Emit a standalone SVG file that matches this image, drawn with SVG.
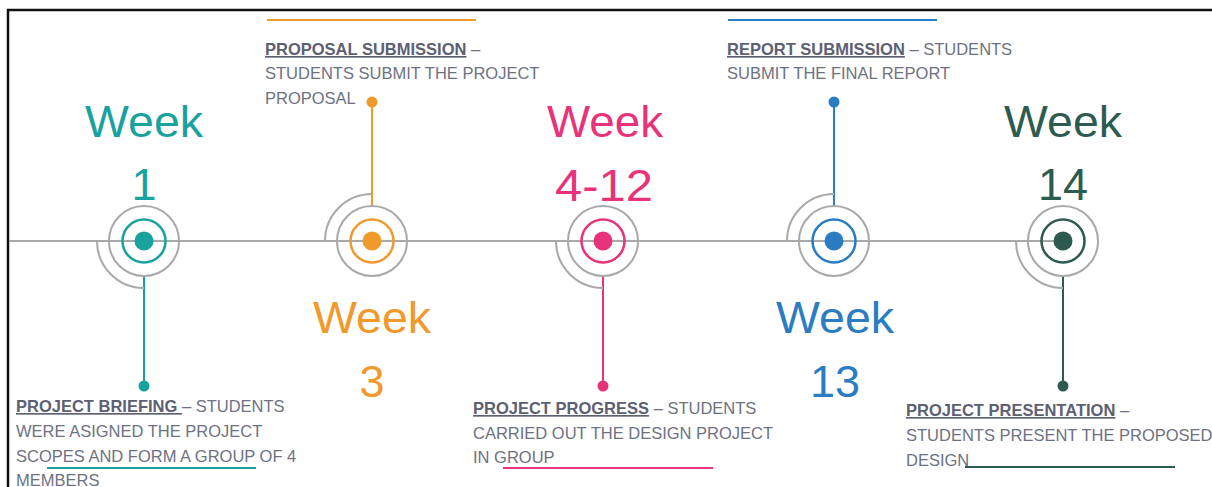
<svg xmlns="http://www.w3.org/2000/svg" width="1212" height="487" viewBox="0 0 1212 487">
<style>
.wk{font-family:"Liberation Sans",Arial,sans-serif;font-size:44px;text-anchor:middle}
.num{font-family:"Liberation Sans",Arial,sans-serif;font-size:45px;text-anchor:middle}
.desc{font-family:"Liberation Sans",Arial,sans-serif;font-size:16.5px;fill:#6e7182}
.hd{font-weight:bold;fill:#5d6073;text-decoration:underline}
.gray{fill:none;stroke:#a9a9a9;stroke-width:2}
.ring{fill:none;stroke-width:2.5}
</style>
<rect width="1212" height="487" fill="#ffffff"/>
<path d="M8,487 V10 H1212" fill="none" stroke="#111" stroke-width="2.5"/>
<line x1="9" y1="241" x2="1063" y2="241" stroke="#a9a9a9" stroke-width="2"/>

<g id="connectors">
  <line x1="144" y1="276" x2="144" y2="386" stroke="#17a29e" stroke-width="2"/>
  <circle cx="144" cy="386" r="5.5" fill="#17a29e"/>
  <line x1="372" y1="102" x2="372" y2="206" stroke="#f09a2c" stroke-width="2"/>
  <circle cx="372" cy="102" r="5.5" fill="#f09a2c"/>
  <line x1="603" y1="276" x2="603" y2="386" stroke="#e8337a" stroke-width="2"/>
  <circle cx="603" cy="386" r="5.5" fill="#e8337a"/>
  <line x1="834" y1="102" x2="834" y2="206" stroke="#2a7dc2" stroke-width="2"/>
  <circle cx="834" cy="102" r="5.5" fill="#2a7dc2"/>
  <line x1="1063" y1="276" x2="1063" y2="386" stroke="#2d5b50" stroke-width="2"/>
  <circle cx="1063" cy="386" r="5.5" fill="#2d5b50"/>
</g>

<g id="node-week1">
  <path class="gray" d="M97,241 A47,47 0 0 0 144,288"/>
  <circle class="gray" cx="144" cy="241" r="35"/>
  <circle class="ring" cx="144" cy="241" r="21.5" stroke="#17a29e"/>
  <circle cx="144" cy="241" r="9.5" fill="#17a29e"/>
  <text class="wk" x="144" y="137" fill="#17a29e" textLength="118" lengthAdjust="spacingAndGlyphs">Week</text>
  <text class="num" x="144" y="200" fill="#17a29e">1</text>
  <line x1="47" y1="468" x2="256" y2="468" stroke="#17a29e" stroke-width="2"/>
  <text class="desc" x="16" y="412"><tspan class="hd">PROJECT BRIEFING </tspan>– STUDENTS</text>
  <text class="desc" x="16" y="437">WERE ASIGNED THE PROJECT</text>
  <text class="desc" x="16" y="462">SCOPES AND FORM A GROUP OF 4</text>
  <text class="desc" x="16" y="486">MEMBERS</text>
</g>

<g id="node-week3">
  <path class="gray" d="M325,241 A47,47 0 0 1 372,194"/>
  <circle class="gray" cx="372" cy="241" r="35"/>
  <circle class="ring" cx="372" cy="241" r="21.5" stroke="#f09a2c"/>
  <circle cx="372" cy="241" r="9.5" fill="#f09a2c"/>
  <text class="wk" x="372" y="333" fill="#f09a2c" textLength="118" lengthAdjust="spacingAndGlyphs">Week</text>
  <text class="num" x="372" y="397" fill="#f09a2c">3</text>
  <line x1="267" y1="20" x2="476" y2="20" stroke="#f09a2c" stroke-width="2"/>
  <text class="desc" x="265" y="55"><tspan class="hd">PROPOSAL SUBMISSION</tspan> –</text>
  <text class="desc" x="265" y="79">STUDENTS SUBMIT THE PROJECT</text>
  <text class="desc" x="265" y="104">PROPOSAL</text>
</g>

<g id="node-week4-12">
  <path class="gray" d="M556,241 A47,47 0 0 0 603,288"/>
  <circle class="gray" cx="603" cy="241" r="35"/>
  <circle class="ring" cx="603" cy="241" r="21.5" stroke="#e8337a"/>
  <circle cx="603" cy="241" r="9.5" fill="#e8337a"/>
  <text class="wk" x="605" y="137" fill="#e8337a" textLength="116" lengthAdjust="spacingAndGlyphs">Week</text>
  <text class="num" x="604" y="201" fill="#e8337a" textLength="98" lengthAdjust="spacingAndGlyphs">4-12</text>
  <line x1="503" y1="468" x2="713" y2="468" stroke="#e8337a" stroke-width="2"/>
  <text class="desc" x="473" y="414"><tspan class="hd">PROJECT PROGRESS</tspan> – STUDENTS</text>
  <text class="desc" x="473" y="439">CARRIED OUT THE DESIGN PROJECT</text>
  <text class="desc" x="473" y="463">IN GROUP</text>
</g>

<g id="node-week13">
  <path class="gray" d="M787,241 A47,47 0 0 1 834,194"/>
  <circle class="gray" cx="834" cy="241" r="35"/>
  <circle class="ring" cx="834" cy="241" r="21.5" stroke="#2a7dc2"/>
  <circle cx="834" cy="241" r="9.5" fill="#2a7dc2"/>
  <text class="wk" x="835" y="333" fill="#2a7dc2" textLength="118" lengthAdjust="spacingAndGlyphs">Week</text>
  <text class="num" x="835" y="397" fill="#2a7dc2">13</text>
  <line x1="728" y1="20" x2="937" y2="20" stroke="#2a7dc2" stroke-width="2"/>
  <text class="desc" x="727" y="55"><tspan class="hd">REPORT SUBMISSION</tspan> – STUDENTS</text>
  <text class="desc" x="727" y="79">SUBMIT THE FINAL REPORT</text>
</g>

<g id="node-week14">
  <path class="gray" d="M1016,241 A47,47 0 0 0 1063,288"/>
  <circle class="gray" cx="1063" cy="241" r="35"/>
  <circle class="ring" cx="1063" cy="241" r="21.5" stroke="#2d5b50"/>
  <circle cx="1063" cy="241" r="9.5" fill="#2d5b50"/>
  <text class="wk" x="1063" y="137" fill="#2d5b50" textLength="118" lengthAdjust="spacingAndGlyphs">Week</text>
  <text class="num" x="1063" y="200" fill="#2d5b50">14</text>
  <line x1="965" y1="467" x2="1175" y2="467" stroke="#2d5b50" stroke-width="2"/>
  <text class="desc" x="906" y="416"><tspan class="hd">PROJECT PRESENTATION</tspan> –</text>
  <text class="desc" x="906" y="441">STUDENTS PRESENT THE PROPOSED</text>
  <text class="desc" x="906" y="466">DESIGN</text>
</g>
</svg>
